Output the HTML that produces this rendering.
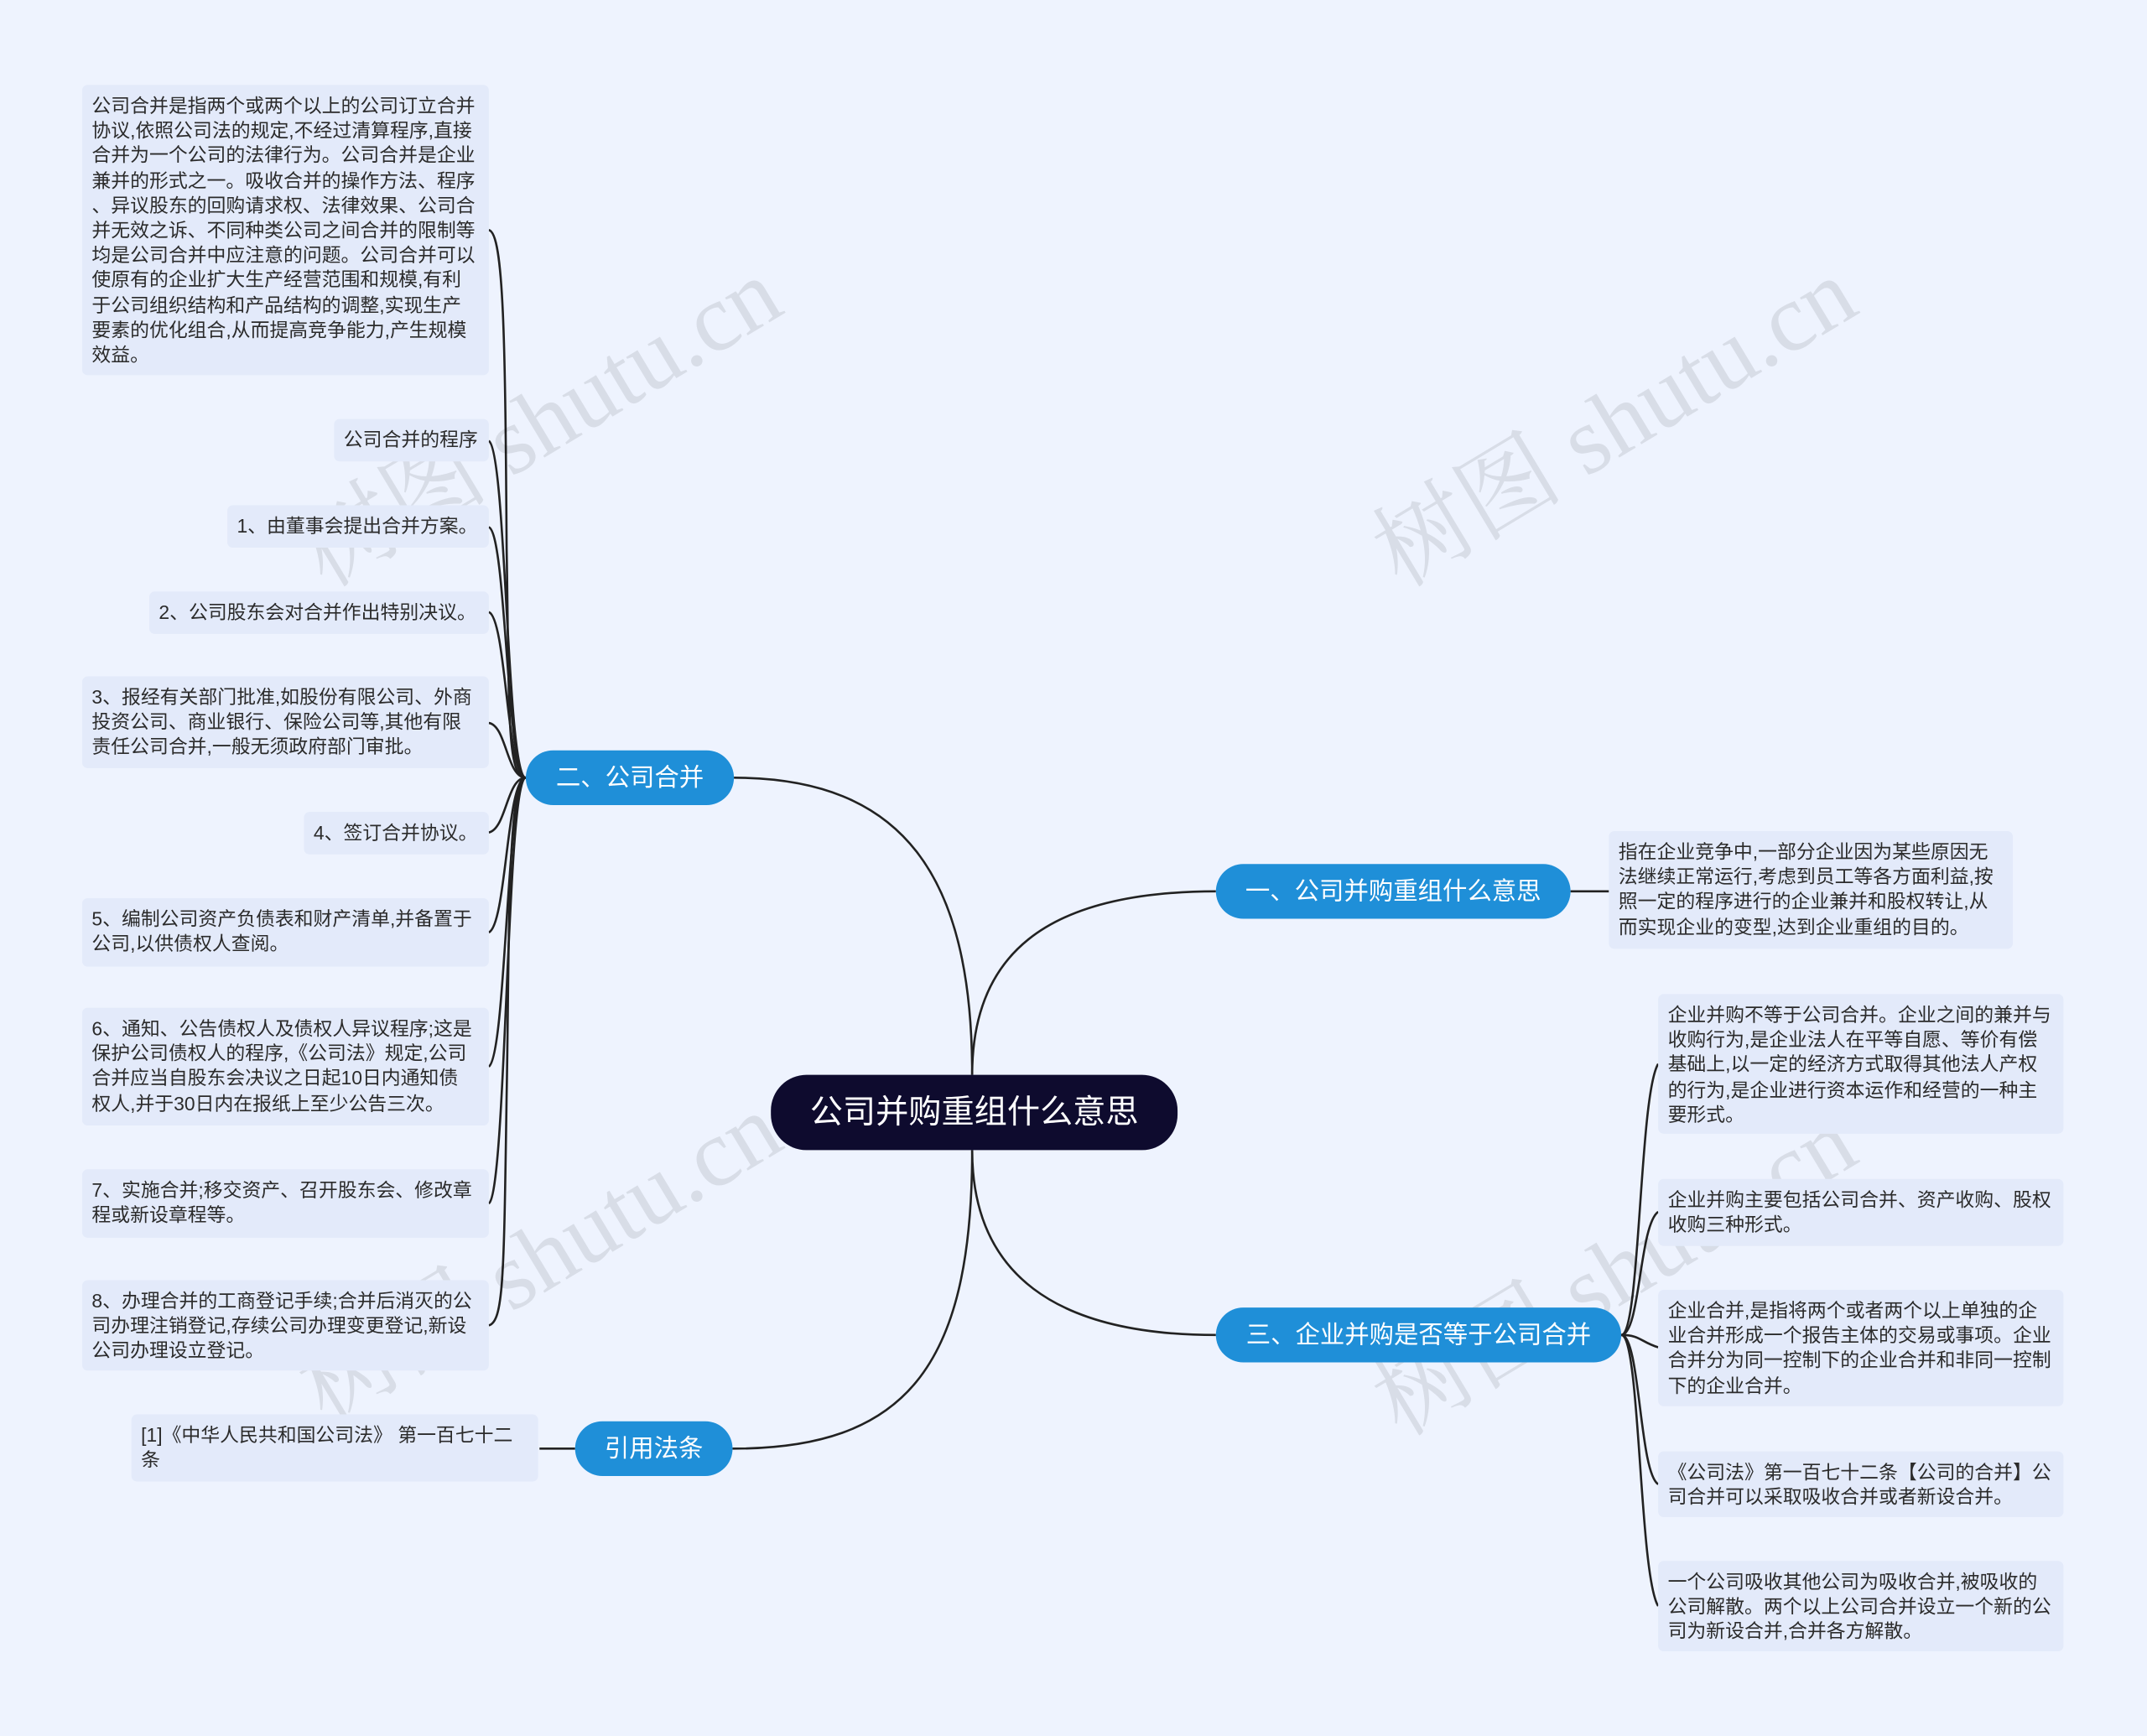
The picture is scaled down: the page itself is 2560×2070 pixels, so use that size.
<!DOCTYPE html>
<html><head><meta charset="utf-8">
<style>
html,body{margin:0;padding:0;}
body{width:2560px;height:2070px;overflow:hidden;background:#eef3fe;}
#s{position:absolute;left:0;top:0;width:1568px;height:1268px;transform:scale(1.63265);transform-origin:0 0;font-family:"Liberation Sans","Noto Sans CJK SC",sans-serif;}
.l{position:absolute;background:#e3eafa;border-radius:4px;color:#2b2b2b;font-size:14px;line-height:18.2px;padding:6px 7px;box-sizing:border-box;white-space:pre;}
.b{position:absolute;background:#1f8fd8;color:#fff;font-size:18px;border-radius:20px;text-align:center;line-height:40px;height:40px;}
.c{position:absolute;background:#0e0b2e;color:#fff;font-size:24px;border-radius:26px;text-align:center;line-height:55px;height:55px;left:563px;top:785px;width:297px;}
.w{position:absolute;width:420px;height:80px;line-height:80px;text-align:center;font-size:70px;color:rgba(0,0,0,0.09);transform:rotate(-31deg);transform-origin:center;font-family:"Liberation Serif","Noto Serif CJK SC",serif;white-space:nowrap;}
svg{position:absolute;left:0;top:0;}
</style></head><body><div id="s">
<svg width="1568" height="1268" fill="none" stroke="#222" stroke-width="1.6">
<path d="M710,785 C710,640 660,568 536,568"/>
<path d="M710,785 C710,700 760,651 888,651"/>
<path d="M710,840 C710,930 770,975 888,975"/>
<path d="M710,840 C710,1000 660,1058 535,1058"/>
<path d="M1147,651 L1175,651"/>
<path d="M394,1058 L420,1058"/>
<g>
<path d="M384,568 C370,568 372,520 370,400 C369,250 368,170 357,168"/>
<path d="M384,568 C370,568 370,330 357,322"/>
<path d="M384,568 C370,568 370,390 357,385"/>
<path d="M384,568 C370,568 370,452 357,447"/>
<path d="M384,568 C370,568 370,530 357,528"/>
<path d="M384,568 C370,568 370,605 357,608"/>
<path d="M384,568 C370,568 370,675 357,681"/>
<path d="M384,568 C370,568 370,770 357,779"/>
<path d="M384,568 C370,568 370,870 357,879"/>
<path d="M384,568 C370,568 372,700 370,800 C368,930 368,965 357,968"/>
</g>
<g>
<path d="M1184,975 C1198,975 1197,800 1211,777"/>
<path d="M1184,975 C1198,975 1197,895 1211,885"/>
<path d="M1184,975 C1198,975 1198,980 1211,984"/>
<path d="M1184,975 C1198,975 1197,1075 1211,1084"/>
<path d="M1184,975 C1198,975 1197,1150 1211,1173"/>
</g>
</svg>
<div class="w" style="left:185px;top:270px">树图 shutu.cn</div>
<div class="w" style="left:970px;top:270px">树图 shutu.cn</div>
<div class="w" style="left:185px;top:880px">树图 shutu.cn</div>
<div class="w" style="left:970px;top:890px">树图 shutu.cn</div>

<div class="l" style="left:60px;top:62px;width:297px;height:212px">公司合并是指两个或两个以上的公司订立合并
协议,依照公司法的规定,不经过清算程序,直接
合并为一个公司的法律行为。公司合并是企业
兼并的形式之一。吸收合并的操作方法、程序
、异议股东的回购请求权、法律效果、公司合
并无效之诉、不同种类公司之间合并的限制等
均是公司合并中应注意的问题。公司合并可以
使原有的企业扩大生产经营范围和规模,有利
于公司组织结构和产品结构的调整,实现生产
要素的优化组合,从而提高竞争能力,产生规模
效益。</div>
<div class="l" style="left:244px;top:306px;width:113px;height:31px">公司合并的程序</div>
<div class="l" style="left:166px;top:369px;width:191px;height:31px">1、由董事会提出合并方案。</div>
<div class="l" style="left:109px;top:432px;width:248px;height:31px">2、公司股东会对合并作出特别决议。</div>
<div class="l" style="left:60px;top:494px;width:297px;height:67px">3、报经有关部门批准,如股份有限公司、外商
投资公司、商业银行、保险公司等,其他有限
责任公司合并,一般无须政府部门审批。</div>
<div class="l" style="left:222px;top:593px;width:135px;height:31px">4、签订合并协议。</div>
<div class="l" style="left:60px;top:656px;width:297px;height:50px">5、编制公司资产负债表和财产清单,并备置于
公司,以供债权人查阅。</div>
<div class="l" style="left:60px;top:736px;width:297px;height:86px">6、通知、公告债权人及债权人异议程序;这是
保护公司债权人的程序,《公司法》规定,公司
合并应当自股东会决议之日起10日内通知债
权人,并于30日内在报纸上至少公告三次。</div>
<div class="l" style="left:60px;top:854px;width:297px;height:50px">7、实施合并;移交资产、召开股东会、修改章
程或新设章程等。</div>
<div class="l" style="left:60px;top:935px;width:297px;height:66px">8、办理合并的工商登记手续;合并后消灭的公
司办理注销登记,存续公司办理变更登记,新设
公司办理设立登记。</div>
<div class="l" style="left:96px;top:1033px;width:297px;height:49px">[1]《中华人民共和国公司法》 第一百七十二
条</div>

<div class="l" style="left:1175px;top:607px;width:295px;height:86px">指在企业竞争中,一部分企业因为某些原因无
法继续正常运行,考虑到员工等各方面利益,按
照一定的程序进行的企业兼并和股权转让,从
而实现企业的变型,达到企业重组的目的。</div>
<div class="l" style="left:1211px;top:726px;width:296px;height:102px">企业并购不等于公司合并。企业之间的兼并与
收购行为,是企业法人在平等自愿、等价有偿
基础上,以一定的经济方式取得其他法人产权
的行为,是企业进行资本运作和经营的一种主
要形式。</div>
<div class="l" style="left:1211px;top:861px;width:296px;height:49px">企业并购主要包括公司合并、资产收购、股权
收购三种形式。</div>
<div class="l" style="left:1211px;top:942px;width:296px;height:85px">企业合并,是指将两个或者两个以上单独的企
业合并形成一个报告主体的交易或事项。企业
合并分为同一控制下的企业合并和非同一控制
下的企业合并。</div>
<div class="l" style="left:1211px;top:1060px;width:296px;height:48px">《公司法》第一百七十二条【公司的合并】公
司合并可以采取吸收合并或者新设合并。</div>
<div class="l" style="left:1211px;top:1140px;width:296px;height:66px">一个公司吸收其他公司为吸收合并,被吸收的
公司解散。两个以上公司合并设立一个新的公
司为新设合并,合并各方解散。</div>

<div class="b" style="left:384px;top:548px;width:152px">二、公司合并</div>
<div class="b" style="left:888px;top:631px;width:259px">一、公司并购重组什么意思</div>
<div class="b" style="left:888px;top:955px;width:296px">三、企业并购是否等于公司合并</div>
<div class="b" style="left:420px;top:1038px;width:115px">引用法条</div>
<div class="c">公司并购重组什么意思</div>
</div></body></html>
